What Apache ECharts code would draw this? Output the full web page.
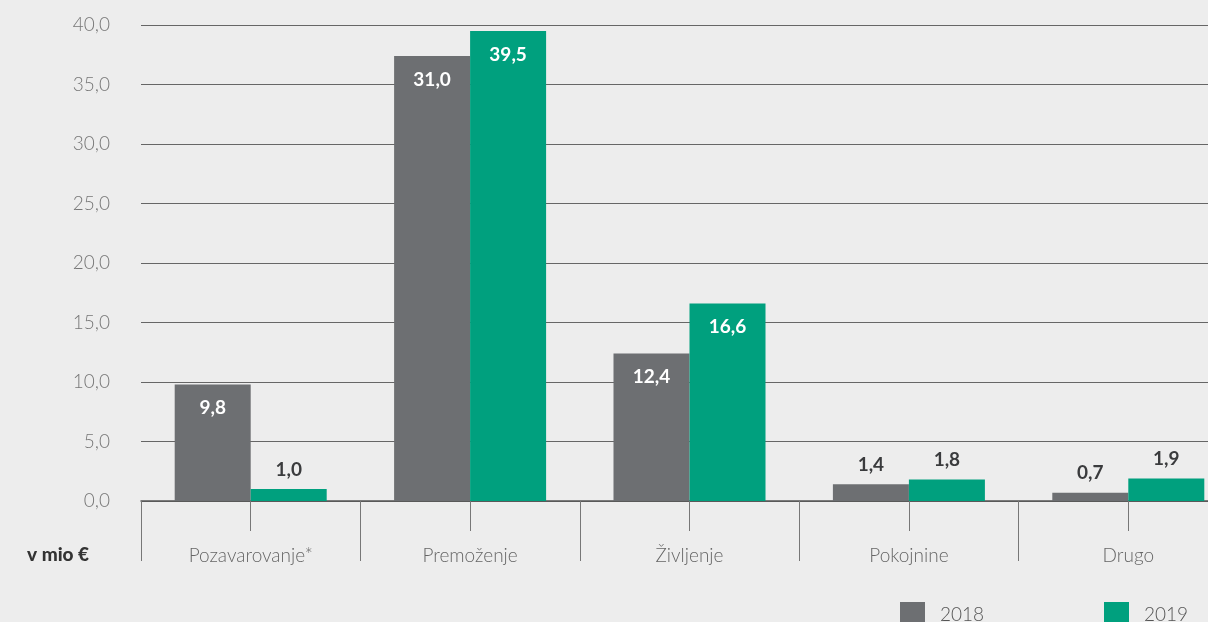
<!DOCTYPE html>
<html>
<head>
<meta charset="utf-8">
<script src="https://cdn.jsdelivr.net/npm/echarts@6/dist/echarts.min.js"></script>
<style>
  html, body { margin: 0; padding: 0; background: #ededed; }
  #main { width: 1208px; height: 622px; }
</style>
</head>
<body>
<div id="main"></div>
<script>
var categories = ['Pozavarovanje*', 'Premoženje', 'Življenje', 'Pokojnine', 'Drugo'];
var values2018 = [9.8, 37.4, 12.4, 1.4, 0.7];
var values2019 = [1.0, 39.5, 16.6, 1.8, 1.9];
// labels as printed on the bars
var labels2018 = ['9,8', '31,0', '12,4', '1,4', '0,7'];
var labels2019 = ['1,0', '39,5', '16,6', '1,8', '1,9'];
var yTicks = { min: 0, max: 40, interval: 5 };

var FONT = 'Lato';
var GREY = '#6d6f72';
var GREEN = '#00a07e';

function makeData(vals, texts) {
  return vals.map(function (v, i) {
    var big = v > 5;
    return {
      value: v,
      label: {
        show: true,
        formatter: texts[i],
        position: big ? 'insideTop' : 'top',
        distance: big ? 14 : 10,
        color: big ? '#ffffff' : '#3a3b3d',
        fontFamily: FONT,
        fontWeight: 'bold',
        fontSize: 19
      }
    };
  });
}

var legendText = { fontFamily: FONT, fontWeight: 300, fontSize: 19, color: '#555', padding: [0, 0, 0, 10] };

var chartDom = document.getElementById('main');
var myChart = echarts.init(chartDom);
var option = {
  backgroundColor: '#ededed',
  animation: false,
  // grid runs past the right edge, so the last category is cut off like in the original
  grid: { left: 141, top: 25, width: 1097, bottom: 121, containLabel: false, outerBoundsMode: 'none' },
  legend: [
    { data: ['2018'], left: 895, top: 597, itemWidth: 25, itemHeight: 25, icon: 'rect', textStyle: legendText },
    { data: ['2019'], left: 1099, top: 597, itemWidth: 25, itemHeight: 25, icon: 'rect', textStyle: legendText }
  ],
  graphic: [
    {
      type: 'text', left: 27, top: 545,
      style: { text: 'v mio €', fontFamily: FONT, fontWeight: 900, fontSize: 19, fill: '#333' }
    }
  ],
  xAxis: [
    {
      type: 'category',
      data: categories,
      axisLine: { lineStyle: { color: '#555', width: 1.5 } },
      axisTick: { show: true, length: 60, lineStyle: { color: '#777' } },
      axisLabel: { margin: 45, fontFamily: FONT, fontWeight: 300, fontSize: 19, color: '#666' }
    },
    {
      // short ticks under the middle of each category
      type: 'category',
      data: categories,
      position: 'bottom',
      axisLine: { show: false },
      axisTick: { show: true, alignWithLabel: true, length: 30, lineStyle: { color: '#777' } },
      axisLabel: { show: false }
    }
  ],
  yAxis: {
    type: 'value',
    min: yTicks.min,
    max: yTicks.max,
    interval: yTicks.interval,
    axisLine: { show: false },
    axisTick: { show: false },
    splitLine: { lineStyle: { color: '#666', width: 1 } },
    axisLabel: {
      margin: 31,
      fontFamily: FONT, fontWeight: 300, fontSize: 19, color: '#777',
      formatter: function (v) { return v.toFixed(1).replace('.', ','); }
    }
  },
  series: [
    {
      name: '2018', type: 'bar', barWidth: 76, barGap: '0%',
      itemStyle: { color: GREY },
      data: makeData(values2018, labels2018)
    },
    {
      name: '2019', type: 'bar', barWidth: 76, barGap: '0%',
      itemStyle: { color: GREEN },
      data: makeData(values2019, labels2019)
    }
  ]
};

option && myChart.setOption(option);
</script>
</body>
</html>
